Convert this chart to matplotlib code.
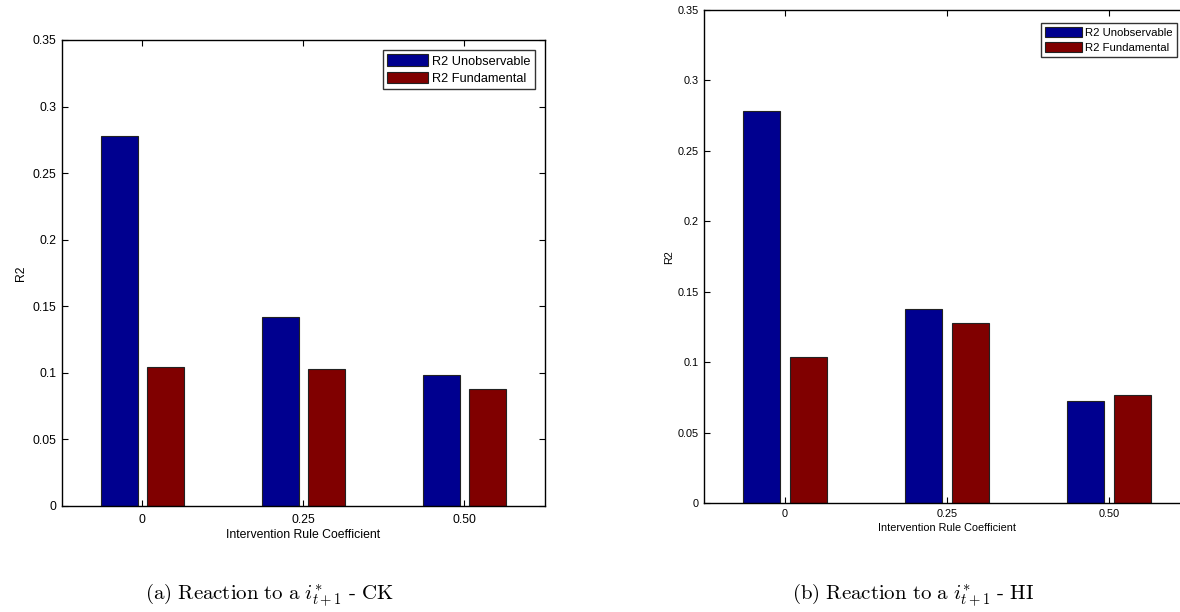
import matplotlib
matplotlib.use("Agg")
import matplotlib.pyplot as plt
import numpy as np

plt.rcParams['font.family'] = ['Liberation Sans', 'DejaVu Sans']
plt.rcParams['mathtext.fontset'] = 'cm'

categories = ["0", "0.25", "0.50"]
series_names = ["R2 Unobservable", "R2 Fundamental"]
ck_unobservable = [0.278, 0.1415, 0.0985]
ck_fundamental = [0.104, 0.1025, 0.088]
hi_unobservable = [0.278, 0.138, 0.0725]
hi_fundamental = [0.1035, 0.1278, 0.0765]
yticks = [0, 0.05, 0.1, 0.15, 0.2, 0.25, 0.3, 0.35]
ytick_labels = ["0", "0.05", "0.1", "0.15", "0.2", "0.25", "0.3", "0.35"]
captions = [r"$\mathrm{(a)\ Reaction\ to\ a\ }i^{*}_{t+1}\mathrm{\ \text{-}\ CK}$",
            r"$\mathrm{(b)\ Reaction\ to\ a\ }i^{*}_{t+1}\mathrm{\ \text{-}\ HI}$"]

colors = ['#00008F', '#800000']

fig = plt.figure(figsize=(11.8, 6.12), dpi=100)
ax1 = fig.add_axes([61.7/1180, (612-505.7)/612, 483.3/1180, 465.7/612])
ax2 = fig.add_axes([704/1180, (612-503.3)/612, 486/1180, 493.3/612])


def draw(ax, unobs, fund, fs, legfs, leg_anchor, tpad, xlpad, ylpad):
    x = np.arange(1, len(categories) + 1)
    w = 0.8 * 2 / 7
    off = 1 / 7
    ax.bar(x - off, unobs, width=w, color=colors[0], edgecolor='#222222',
           linewidth=0.8, label=series_names[0])
    ax.bar(x + off, fund, width=w, color=colors[1], edgecolor='#222222',
           linewidth=0.8, label=series_names[1])
    ax.set_xlim(0.5, 3.5)
    ax.set_ylim(0, 0.35)
    ax.set_xticks(x)
    ax.set_xticklabels(categories, fontsize=fs)
    ax.set_yticks(yticks)
    ax.set_yticklabels(ytick_labels, fontsize=fs)
    ax.tick_params(direction='in', top=True, right=True, length=4, width=0.8,
                   pad=4, colors='black')
    ax.tick_params(axis='x', pad=tpad)
    for s in ax.spines.values():
        s.set_linewidth(1.0)
    ax.set_xlabel("Intervention Rule Coefficient", fontsize=fs, labelpad=xlpad)
    ax.set_ylabel("R2", fontsize=fs, labelpad=ylpad)
    leg = ax.legend(loc='upper right', bbox_to_anchor=leg_anchor,
                    borderaxespad=0, fontsize=legfs, frameon=True,
                    fancybox=False, shadow=False, handlelength=3.2,
                    handleheight=1.0, handletextpad=0.3, labelspacing=0.32,
                    borderpad=0.35)
    leg.get_frame().set_edgecolor('black')
    leg.get_frame().set_linewidth(1.0)


draw(ax1, ck_unobservable, ck_fundamental, 8.8, 9.2, (0.979, 0.9785), 6, 2, 4)
draw(ax2, hi_unobservable, hi_fundamental, 7.8, 8.2, (0.9726, 0.973), 4, 3, 2)

fig.text(145/1180, (612-600)/612, captions[0], ha='left', va='baseline',
         fontsize=15)
fig.text(792/1180, (612-600)/612, captions[1], ha='left', va='baseline',
         fontsize=15)

fig.savefig("out.png", dpi=100)
